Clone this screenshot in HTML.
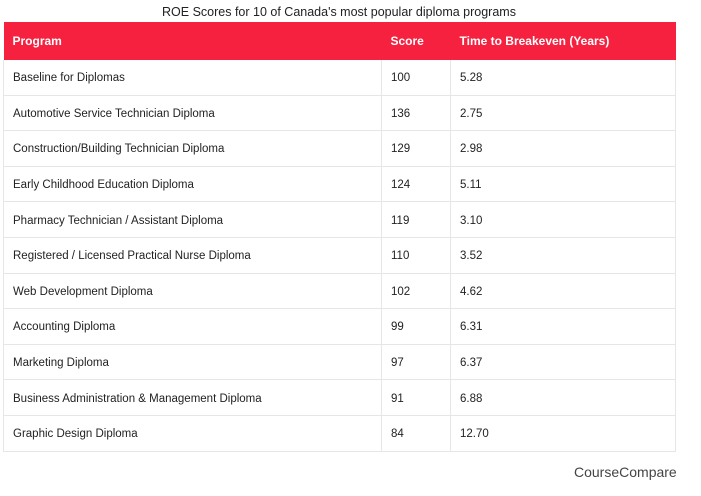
<!DOCTYPE html>
<html><head><style>
body{margin:0;width:701px;height:496px;background:#fff;font-family:"Liberation Sans",sans-serif;position:relative;overflow:hidden}
.t{position:absolute;top:5px;left:3px;width:672px;text-align:center;font-size:12.5px;color:#222}
table{position:absolute;left:3px;top:22px;width:673px;border-collapse:collapse;font-size:11.5px;color:#222}
th{background:#f5213f;color:#fff;text-align:left;height:38px;padding:0 0 0 9px;font-weight:bold;font-size:12px}
td{height:32.6px;padding:2px 0 0 9px;border-bottom:1px solid #e6e6e6;border-right:1px solid #e6e6e6}
td:first-child{border-left:1px solid #e6e6e6}
.c{position:absolute;left:574px;top:464px;font-size:14px;color:#444;letter-spacing:0}
</style></head><body>
<div class="t">ROE Scores for 10 of Canada's most popular diploma programs</div>
<table>
<colgroup><col style="width:378px"><col style="width:69px"><col></colgroup>
<tr><th>Program</th><th>Score</th><th>Time to Breakeven (Years)</th></tr>
<tr><td>Baseline for Diplomas</td><td>100</td><td>5.28</td></tr>
<tr><td>Automotive Service Technician Diploma</td><td>136</td><td>2.75</td></tr>
<tr><td>Construction/Building Technician Diploma</td><td>129</td><td>2.98</td></tr>
<tr><td>Early Childhood Education Diploma</td><td>124</td><td>5.11</td></tr>
<tr><td>Pharmacy Technician / Assistant Diploma</td><td>119</td><td>3.10</td></tr>
<tr><td>Registered / Licensed Practical Nurse Diploma</td><td>110</td><td>3.52</td></tr>
<tr><td>Web Development Diploma</td><td>102</td><td>4.62</td></tr>
<tr><td>Accounting Diploma</td><td>99</td><td>6.31</td></tr>
<tr><td>Marketing Diploma</td><td>97</td><td>6.37</td></tr>
<tr><td>Business Administration &amp; Management Diploma</td><td>91</td><td>6.88</td></tr>
<tr><td>Graphic Design Diploma</td><td>84</td><td>12.70</td></tr>
</table>
<div class="c">CourseCompare</div>
</body></html>
